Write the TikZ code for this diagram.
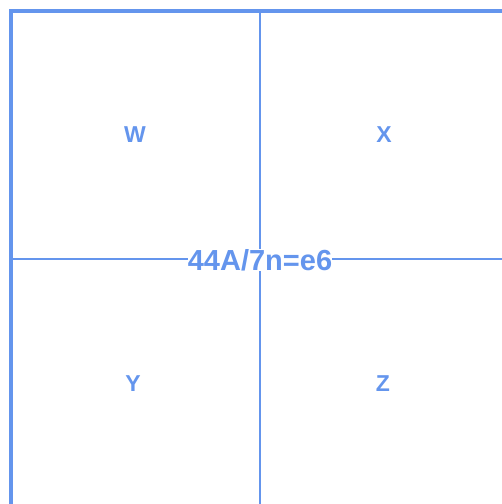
\documentclass[tikz,border=0pt]{standalone}
\usepackage{fontspec}
\setmainfont{Liberation Sans}
\definecolor{cb}{HTML}{6495ED}
\begin{document}
\begin{tikzpicture}[x=1pt,y=-1pt,
  grid/.style={draw=cb,line width=2.6pt},
  outer/.style={draw=cb,line width=4pt},
  cell/.style={text=cb,font=\bfseries\fontsize{23}{26}\selectfont},
  mid/.style={text=cb,fill=white,inner sep=0pt,font=\bfseries\fontsize{29}{32}\selectfont}]
\useasboundingbox (0,0) rectangle (502,504);
\clip (0,0) rectangle (502,504);
\coordinate (tl) at (10.5,10.5);
\coordinate (br) at (512,512);
\coordinate (t) at (260,10);
\coordinate (b) at (260,512);
\coordinate (l) at (10,259);
\coordinate (r) at (512,259);
\draw[grid] (t) -- (b);
\draw[grid] (l) -- (r);
\draw[outer] (tl) rectangle (br);
\node[cell] (W) at (135,134.5) {W};
\node[cell] (X) at (384,134.5) {X};
\node[cell] (Y) at (133,384) {Y};
\node[cell] (Z) at (383,384) {Z};
\node[mid] (c) at (260,260) {44A/7n=e6};
\end{tikzpicture}
\end{document}
